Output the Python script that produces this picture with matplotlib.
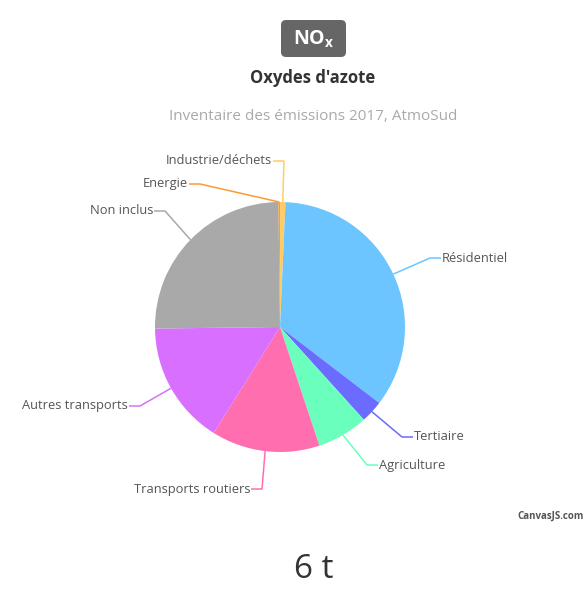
import numpy as np
import matplotlib.pyplot as plt
from matplotlib.patches import FancyBboxPatch

# slice values (% of NOx emissions), clockwise from the top
categories = ["Industrie/déchets", "Résidentiel", "Tertiaire", "Agriculture",
              "Transports routiers", "Autres transports", "Non inclus", "Energie"]
values = [0.7, 34.7, 2.9, 6.6, 14.0, 15.9, 25.0, 0.2]
colors = ["#FFCC66", "#6CC5FF", "#6B6BFF", "#6BFFBE",
          "#FF6FB0", "#D86FFF", "#A9A9A9", "#FF9933"]

W, H = 585, 589
fig = plt.figure(figsize=(W / 100, H / 100), dpi=100)
ax = fig.add_axes([0, 0, 1, 1])

cx, cy, r = 280, H - 327, 125
wedges, _ = ax.pie(values, colors=colors, startangle=90, counterclock=False,
                   center=(cx, cy), radius=r, frame=True,
                   wedgeprops=dict(linewidth=0))
ax.set_xlim(0, W)
ax.set_ylim(0, H)
ax.set_aspect("equal")
ax.axis("off")

# label layout: elbow point (image px) and which side the text goes
elbows = [(284, 161), (430, 258), (402, 437), (367, 465),
          (262, 489), (140, 406), (165, 211), (200, 184)]
sides = [-1, 1, 1, 1, -1, -1, -1, -1]

for w, name, col, (ex, ey), s in zip(wedges, categories, colors, elbows, sides):
    mid = np.deg2rad((w.theta1 + w.theta2) / 2)
    ax0 = cx + r * np.cos(mid)
    ay0 = cy + r * np.sin(mid)
    ey = H - ey
    ax.plot([ax0, ex, ex + s * 11], [ay0, ey, ey], color=col, lw=1.1,
            solid_capstyle="butt")
    ax.text(ex + s * 12, ey, name, ha="left" if s > 0 else "right",
            va="center", fontsize=9.3, color="#555555", family="Open Sans")

# title badge
box = FancyBboxPatch((281, H - 57), 65, 37, boxstyle="round,pad=0,rounding_size=5",
                     fc="#666666", ec="none")
ax.add_patch(box)
ax.text(314, H - 39, r"NO$_\mathregular{x}$", ha="center", va="center",
        fontsize=14, color="white", fontweight="bold", family="Open Sans")
ax.text(313, H - 78, "Oxydes d'azote", ha="center", va="center",
        fontsize=12, color="#333333", fontweight="bold", family="Open Sans")
ax.text(313, H - 117, "Inventaire des émissions 2017, AtmoSud", ha="center",
        va="center", fontsize=11, color="#AAAAAA", family="Open Sans")
ax.text(584, H - 516, "CanvasJS.com", ha="right", va="center", fontsize=7,
        color="#555555", fontweight="bold", family="Open Sans")
ax.text(314, H - 570, "6 t", ha="center", va="center", fontsize=24,
        color="#333333", family="Open Sans")

fig.savefig("out.png", dpi=100)
